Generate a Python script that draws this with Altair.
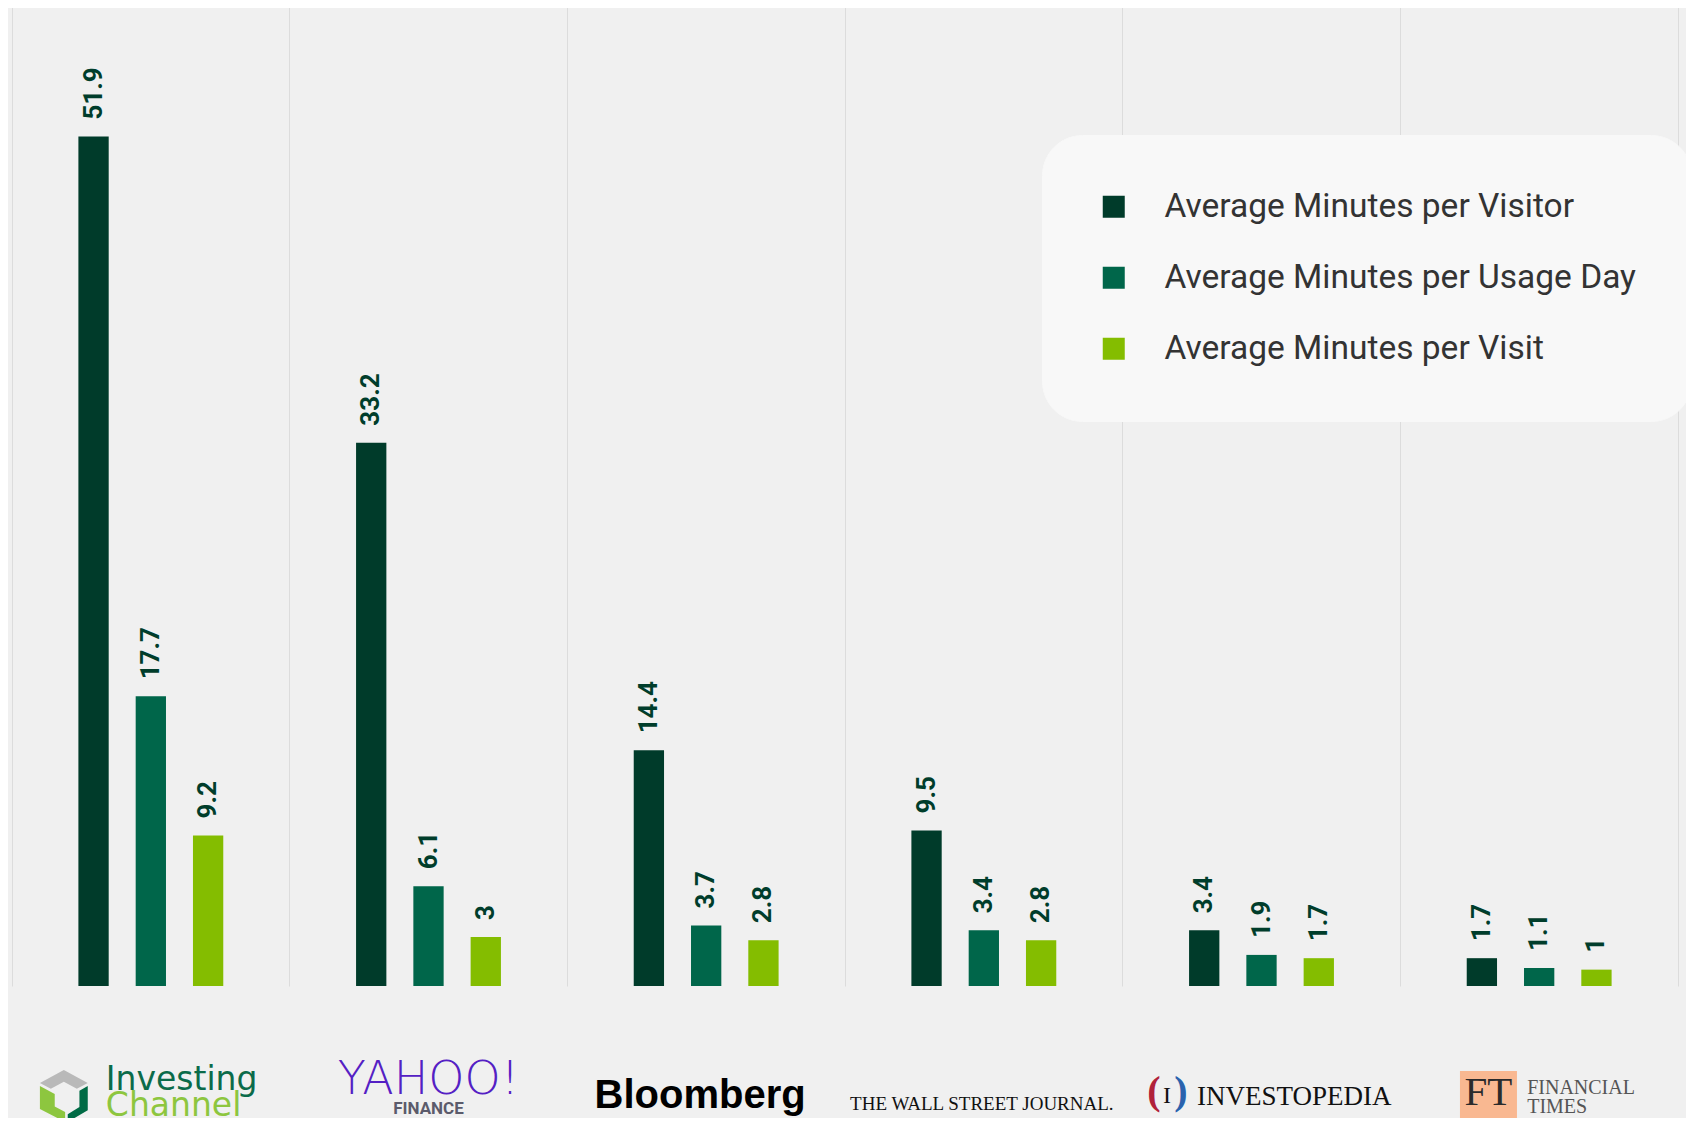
import altair as alt
import pandas as pd

# ---- data ----
sites = ["Investing Channel", "Yahoo Finance", "Bloomberg",
         "The Wall Street Journal", "Investopedia", "Financial Times"]
metrics = ["Average Minutes per Visitor", "Average Minutes per Usage Day",
           "Average Minutes per Visit"]
per_visitor = [51.9, 33.2, 14.4, 9.5, 3.4, 1.7]
per_usage_day = [17.7, 6.1, 3.7, 3.4, 1.9, 1.1]
per_visit = [9.2, 3.0, 2.8, 2.8, 1.7, 1.0]

colors = ["#003b2a", "#00664a", "#84bd00"]

rows = []
for m, vals in zip(metrics, [per_visitor, per_usage_day, per_visit]):
    for s, v in zip(sites, vals):
        rows.append({"site": s, "metric": m, "value": v, "label": f"{v:g}"})
df = pd.DataFrame(rows)

W, H = 1666, 982

x_axis = alt.Axis(title=None, labels=False, ticks=False, domain=False, grid=True,
                  gridColor="#dcdcdc", gridWidth=1, bandPosition=0)
x_enc = alt.X("site:N", sort=sites, scale=alt.Scale(paddingInner=0, paddingOuter=0),
              axis=x_axis)
# empty slots on each side keep the three bars grouped in the middle of each band
xo_enc = alt.XOffset("metric:N",
                     scale=alt.Scale(domain=["_l"] + metrics + ["_r"],
                                     paddingInner=0.471, paddingOuter=0.159))
y_enc = alt.Y("value:Q", scale=alt.Scale(domain=[0, 60], nice=False, zero=True),
              axis=alt.Axis(orient="right", title=None, labels=False, ticks=False,
                            grid=False, domain=True, domainColor="#dcdcdc", domainWidth=1))
color_enc = alt.Color(
    "metric:N", sort=metrics,
    scale=alt.Scale(domain=metrics, range=colors),
    legend=alt.Legend(title=None, orient="none", legendX=1030, legendY=131,
                      padding=55, fillColor="#f8f8f8", cornerRadius=40,
                      strokeColor="#f8f8f8", symbolType="square", symbolSize=484,
                      symbolStrokeWidth=0, labelFont="Roboto", labelFontSize=33.5,
                      labelColor="#333333", labelOffset=34, rowPadding=36,
                      labelLimit=1000),
)

bars = alt.Chart(df).mark_bar().encode(x=x_enc, xOffset=xo_enc, y=y_enc, color=color_enc)

labels = alt.Chart(df).mark_text(
    angle=270, align="left", baseline="middle", dx=17,
    font="Roboto", fontWeight="bold", fontSize=26, color="#003d2b"
).encode(x=x_enc, xOffset=xo_enc, y=y_enc, text="label:N")


def piece(site, text, ypix, **kw):
    d = pd.DataFrame({"site": [site], "t": [text]})
    return alt.Chart(d).mark_text(**kw).encode(
        x=alt.X("site:N", sort=sites, axis=x_axis), y=alt.value(ypix), text="t:N")


def icon(site, ypix, **kw):
    d = pd.DataFrame({"site": [site]})
    return alt.Chart(d).mark_point(**kw).encode(
        x=alt.X("site:N", sort=sites, axis=x_axis), y=alt.value(ypix))


grey_roof = "M0,-1 L0.92,-0.5 L0.5,-0.28 L0,-0.55 L-0.5,-0.28 L-0.92,-0.5 Z"
left_side = "M-0.92,-0.38 L-0.35,-0.08 L-0.35,0.4 L0.05,0.62 L0.05,1 L-0.92,0.5 Z"
right_side = "M0.92,-0.38 L0.92,0.55 L0.15,1 L0.15,0.7 L0.6,0.42 L0.6,-0.2 Z"

logos = [
    # Investing Channel
    icon(sites[0], 1092, shape=grey_roof, size=2704, filled=True, color="#b9b9b9",
         opacity=1, strokeWidth=0, xOffset=-87),
    icon(sites[0], 1092, shape=left_side, size=2704, filled=True, color="#8dc63f",
         opacity=1, strokeWidth=0, xOffset=-87),
    icon(sites[0], 1092, shape=right_side, size=2704, filled=True, color="#006b45",
         opacity=1, strokeWidth=0, xOffset=-87),
    piece(sites[0], "Investing", 1086, align="left", baseline="alphabetic", dx=-45,
          font="DejaVu Sans", fontSize=33, color="#0b6b4a"),
    piece(sites[0], "Channel", 1112, align="left", baseline="alphabetic", dx=-45,
          font="DejaVu Sans", fontSize=33, color="#8dc63f"),
    # Yahoo Finance
    piece(sites[1], "YAHOO!", 1090, align="center", baseline="alphabetic", dx=0,
          font="DejaVu Sans", fontWeight=200, fontSize=46, color="#5420c4"),
    piece(sites[1], "FINANCE", 1110, align="center", baseline="alphabetic", dx=0,
          font="Roboto", fontWeight="bold", fontSize=17, color="#5b5b6b"),
    # Bloomberg
    piece(sites[2], "Bloomberg", 1104, align="center", baseline="alphabetic", dx=-6,
          font="Liberation Sans", fontWeight="bold", fontSize=40, color="#000000"),
    # WSJ
    piece(sites[3], "THE WALL STREET JOURNAL.", 1106, align="center",
          baseline="alphabetic", dx=-2, font="Liberation Serif", fontSize=19,
          color="#111111"),
    # Investopedia
    piece(sites[4], "(", 1100, align="center", baseline="alphabetic", dx=-107.5,
          font="Liberation Serif", fontWeight="bold", fontSize=40, color="#b0213a"),
    piece(sites[4], "I", 1099, align="center", baseline="alphabetic", dx=-94.5,
          font="Liberation Serif", fontSize=24, color="#111111"),
    piece(sites[4], ")", 1100, align="center", baseline="alphabetic", dx=-80.5,
          font="Liberation Serif", fontWeight="bold", fontSize=40, color="#2a62ad"),
    piece(sites[4], "INVESTOPEDIA", 1101, align="left", baseline="alphabetic",
          dx=-64.5, font="Liberation Serif", fontSize=27, color="#111111"),
    # Financial Times
    alt.Chart(pd.DataFrame({"site": [sites[5]]})).mark_square(
        size=3249, color="#f9b891", opacity=1, strokeWidth=0, xOffset=-50.7
    ).encode(x=alt.X("site:N", sort=sites, axis=x_axis), y=alt.value(1095.5)),
    piece(sites[5], "FT", 1101, align="center", baseline="alphabetic", dx=-50.7,
          font="Liberation Serif", fontSize=41, color="#2b2b2b"),
    piece(sites[5], "FINANCIAL", 1090, align="left", baseline="alphabetic", dx=-12,
          font="Liberation Serif", fontSize=20, color="#555555"),
    piece(sites[5], "TIMES", 1109, align="left", baseline="alphabetic", dx=-12,
          font="Liberation Serif", fontSize=20, color="#555555"),
]

chart = alt.layer(bars, labels, *logos).properties(
    width=W, height=H, background="#f0f0f0",
    padding={"left": 4, "top": -4, "right": 8, "bottom": 132},
    autosize=alt.AutoSizeParams(type="none"),
).configure_view(strokeWidth=0)

chart.save("out.html", embed_options={"renderer": "svg", "actions": False})
